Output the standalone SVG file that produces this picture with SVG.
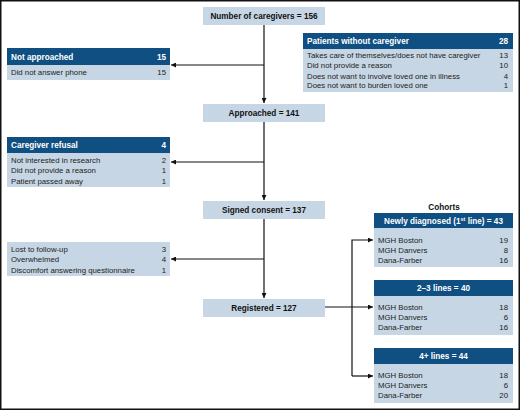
<svg xmlns="http://www.w3.org/2000/svg" width="520" height="410" viewBox="0 0 520 410">
<defs>
<marker id="ah" viewBox="0 0 10 10" refX="10" refY="5" markerWidth="5" markerHeight="5" orient="auto" markerUnits="userSpaceOnUse">
<path d="M0,0 L10,5 L0,10 z" fill="#111"/>
</marker>
<style>
.lt{fill:#c6d6e4}
.hd{fill:#0f4f82}
.b{font-family:"Liberation Sans",Arial,sans-serif;font-weight:bold;font-size:8.2px;fill:#111}
.h{font-family:"Liberation Sans",Arial,sans-serif;font-weight:bold;font-size:8.2px;fill:#fff}
.t{font-family:"Liberation Sans",Arial,sans-serif;font-size:7.8px;fill:#222}
.r{text-anchor:end}
.c{text-anchor:middle}
.ln{fill:none;stroke:#111;stroke-width:1.2}
</style>
</defs>
<rect x="0.75" y="0.75" width="518.5" height="408.5" fill="#fff" stroke="#111" stroke-width="1.5"/>

<g id="connectors">
<path class="ln" d="M264,25 V103" marker-end="url(#ah)"/>
<path class="ln" d="M264,65 H171" marker-end="url(#ah)"/>
<path class="ln" d="M264,122 V200" marker-end="url(#ah)"/>
<path class="ln" d="M264,162 H171" marker-end="url(#ah)"/>
<path class="ln" d="M264,219 V298" marker-end="url(#ah)"/>
<path class="ln" d="M264,259 H171" marker-end="url(#ah)"/>
<path class="ln" d="M325,307 H373" marker-end="url(#ah)"/>
<path class="ln" d="M352,376 V240 H373" marker-end="url(#ah)"/>
<path class="ln" d="M352,376 H373" marker-end="url(#ah)"/>
</g>

<g id="n-total">
<rect class="lt" x="203" y="7" width="122" height="18"/>
<text class="b c" x="264" y="19">Number of caregivers = 156</text>
</g>

<g id="n-not-approached">
<rect class="hd" x="7" y="48" width="163" height="17"/>
<rect class="lt" x="7" y="65" width="163" height="15"/>
<text class="h" x="11" y="59.5">Not approached</text>
<text class="h r" x="166" y="59.5">15</text>
<text class="t" x="11" y="75">Did not answer phone</text>
<text class="t r" x="166" y="75">15</text>
</g>

<g id="n-no-caregiver">
<rect class="hd" x="303" y="33" width="210" height="16"/>
<rect class="lt" x="303" y="49" width="210" height="43"/>
<text class="h" x="307" y="44">Patients without caregiver</text>
<text class="h r" x="508" y="44">28</text>
<text class="t" x="307" y="58.3">Takes care of themselves/does not have caregiver</text>
<text class="t r" x="508" y="58.3">13</text>
<text class="t" x="307" y="68.4">Did not provide a reason</text>
<text class="t r" x="508" y="68.4">10</text>
<text class="t" x="307" y="78.5">Does not want to involve loved one in illness</text>
<text class="t r" x="508" y="78.5">4</text>
<text class="t" x="307" y="88.3">Does not want to burden loved one</text>
<text class="t r" x="508" y="88.3">1</text>
</g>

<g id="n-approached">
<rect class="lt" x="203" y="104" width="122" height="18"/>
<text class="b c" x="264" y="116">Approached = 141</text>
</g>

<g id="n-refusal">
<rect class="hd" x="7" y="137" width="163" height="16"/>
<rect class="lt" x="7" y="153" width="163" height="34"/>
<text class="h" x="11" y="148">Caregiver refusal</text>
<text class="h r" x="166" y="148">4</text>
<text class="t" x="11" y="163">Not interested in research</text>
<text class="t r" x="166" y="163">2</text>
<text class="t" x="11" y="173.3">Did not provide a reason</text>
<text class="t r" x="166" y="173.3">1</text>
<text class="t" x="11" y="183.6">Patient passed away</text>
<text class="t r" x="166" y="183.6">1</text>
</g>

<g id="n-consent">
<rect class="lt" x="203" y="201" width="122" height="18"/>
<text class="b c" x="264" y="213">Signed consent = 137</text>
</g>

<g id="n-lost">
<rect class="lt" x="7" y="242" width="163" height="34"/>
<text class="t" x="11" y="252">Lost to follow-up</text>
<text class="t r" x="166" y="252">3</text>
<text class="t" x="11" y="262.3">Overwhelmed</text>
<text class="t r" x="166" y="262.3">4</text>
<text class="t" x="11" y="272.6">Discomfort answering questionnaire</text>
<text class="t r" x="166" y="272.6">1</text>
</g>

<g id="n-registered">
<rect class="lt" x="203" y="299" width="122" height="18"/>
<text class="b c" x="264" y="311">Registered = 127</text>
</g>

<g id="n-cohorts-label">
<text class="b c" x="444" y="210">Cohorts</text>
</g>

<g id="n-cohort1">
<rect class="hd" x="374" y="213" width="139" height="15"/>
<rect class="lt" x="374" y="228" width="139" height="39"/>
<text class="h c" x="443.5" y="223.5">Newly diagnosed (1<tspan font-size="5.5px" dy="-3">st</tspan><tspan dy="3"> line) = 43</tspan></text>
<text class="t" x="378" y="242.5">MGH Boston</text>
<text class="t r" x="508" y="242.5">19</text>
<text class="t" x="378" y="252.5">MGH Danvers</text>
<text class="t r" x="508" y="252.5">8</text>
<text class="t" x="378" y="262.5">Dana-Farber</text>
<text class="t r" x="508" y="262.5">16</text>
</g>

<g id="n-cohort2">
<rect class="hd" x="374" y="280" width="139" height="16"/>
<rect class="lt" x="374" y="296" width="139" height="39"/>
<text class="h c" x="443.5" y="291">2–3 lines = 40</text>
<text class="t" x="378" y="309.5">MGH Boston</text>
<text class="t r" x="508" y="309.5">18</text>
<text class="t" x="378" y="319.5">MGH Danvers</text>
<text class="t r" x="508" y="319.5">6</text>
<text class="t" x="378" y="329.5">Dana-Farber</text>
<text class="t r" x="508" y="329.5">16</text>
</g>

<g id="n-cohort3">
<rect class="hd" x="374" y="348" width="139" height="16"/>
<rect class="lt" x="374" y="364" width="139" height="39"/>
<text class="h c" x="443.5" y="359">4+ lines = 44</text>
<text class="t" x="378" y="377.5">MGH Boston</text>
<text class="t r" x="508" y="377.5">18</text>
<text class="t" x="378" y="387.5">MGH Danvers</text>
<text class="t r" x="508" y="387.5">6</text>
<text class="t" x="378" y="397.5">Dana-Farber</text>
<text class="t r" x="508" y="397.5">20</text>
</g>
</svg>
